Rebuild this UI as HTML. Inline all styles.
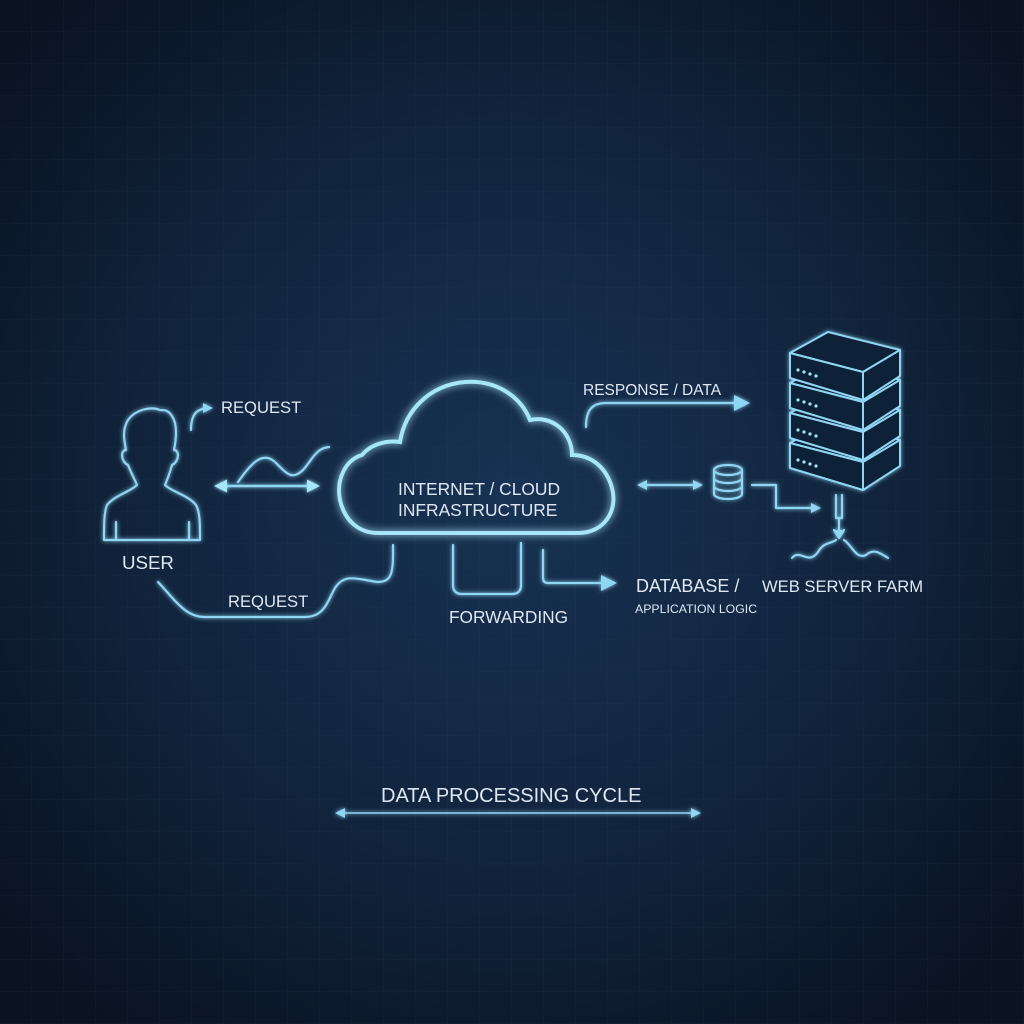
<!DOCTYPE html>
<html><head><style>
html,body{margin:0;padding:0;width:1024px;height:1024px;overflow:hidden;background:#0c1628}
svg{display:block}
text{font-family:"Liberation Sans",sans-serif;fill:#dfe8f2}
</style></head><body>
<svg width="1024" height="1024" viewBox="0 0 1024 1024">
<defs>
<radialGradient id="bg" cx="50%" cy="48%" r="65%">
<stop offset="0" stop-color="#173253"/><stop offset="0.55" stop-color="#11243d"/><stop offset="1" stop-color="#0a1322"/>
</radialGradient>
<pattern id="grid" width="32" height="32" patternUnits="userSpaceOnUse">
<path d="M32 0V32H0" fill="none" stroke="#2a4566" stroke-width="0.6" opacity="0.35"/>
</pattern>
<filter id="glow" x="-30%" y="-30%" width="160%" height="160%">
<feGaussianBlur stdDeviation="4" result="b"/><feMerge><feMergeNode in="b"/><feMergeNode in="SourceGraphic"/></feMerge>
</filter>
<filter id="glow2" x="-30%" y="-30%" width="160%" height="160%">
<feGaussianBlur stdDeviation="2" result="b"/><feMerge><feMergeNode in="b"/><feMergeNode in="SourceGraphic"/></feMerge>
</filter>
<marker id="ah" markerWidth="10" markerHeight="10" refX="7" refY="5" orient="auto-start-reverse" markerUnits="userSpaceOnUse"><path d="M0,0 L10,5 L0,10 Z" fill="#8fd6f2"/></marker>
<marker id="ahM" markerWidth="13" markerHeight="13" refX="9" refY="6.5" orient="auto-start-reverse" markerUnits="userSpaceOnUse"><path d="M0,0 L13,6.5 L0,13 Z" fill="#a6e6fb"/></marker>
<marker id="ahB" markerWidth="16" markerHeight="16" refX="11" refY="8" orient="auto" markerUnits="userSpaceOnUse"><path d="M0,0 L16,8 L0,16 Z" fill="#8fd6f2"/></marker>
</defs>
<rect width="1024" height="1024" fill="url(#bg)"/>
<rect width="1024" height="1024" fill="url(#grid)"/>

<g fill="none" stroke="#8fd6f2" stroke-width="2.2" stroke-linecap="round" stroke-linejoin="round" filter="url(#glow2)">
<path d="M160,410 C150,406 135,410 128,420 C122,430 124,440 126,450 C120,450 121,462 128,465 C132,475 135,480 137,485 C130,492 115,495 107,505 C104,512 104,525 104,540 H200 C200,525 200,512 196,505 C188,495 172,492 165,485 C168,478 170,472 172,465 C179,462 180,450 174,450 C176,440 178,425 172,416 C168,410 165,410 160,410 Z"/>
<path d="M116,540 V522 M189,540 V522"/>
<path d="M191,430 C191,415 196,408 210,408" marker-end="url(#ah)"/>
<path d="M238,482 C250,465 262,450 275,462 C288,475 292,480 303,470 C312,460 316,448 329,447"/>
<path d="M218,486 H316" stroke-width="2.6" marker-end="url(#ahM)" marker-start="url(#ahM)"/>
<path d="M158,582 C175,600 185,617 205,617 H305 C325,617 328,600 335,588 C345,572 360,580 378,582 C390,582 393,575 393,555 V545"/>
<path d="M453,545 V585 Q453,594 462,594 H512 Q521,594 521,585 V543"/>
<path d="M543,550 V578 Q543,583 548,583 H612" marker-end="url(#ahB)"/>
<path d="M586,427 C586,410 592,403 606,403 H745" marker-end="url(#ahB)"/>
<path d="M640,485 H700" marker-end="url(#ah)" marker-start="url(#ah)"/>
<ellipse cx="728" cy="470" rx="14" ry="5"/>
<path d="M714,470 V494 A14,5 0 0 0 742,494 V470 M714,478 A14,5 0 0 0 742,478 M714,486 A14,5 0 0 0 742,486"/>
<path d="M752,485 H776 V508 H818" marker-end="url(#ah)"/>
<path d="M836,495 V518 H842 V495 M839,518 V535" />
<path d="M834,530 L839,538 L844,530" fill="#8fd6f2"/>
<path d="M792,558 C800,548 808,566 818,552 C824,542 830,544 836,540 M844,540 C852,545 856,560 866,555 C874,548 880,553 888,558"/>
<path d="M338,813 H698" stroke-width="1.6" marker-end="url(#ah)" marker-start="url(#ah)"/>
</g>

<g fill="#0f2238" stroke="#8fd6f2" stroke-width="2" stroke-linejoin="round" filter="url(#glow2)">
<g transform="translate(0,90)"><path d="M790,353 L828,332 L900,350 L863,372 Z"/><path d="M790,353 V378 L863,400 V372 Z"/><path d="M863,372 L900,350 V376 L863,400 Z"/></g>
<g transform="translate(0,60)"><path d="M790,353 L828,332 L900,350 L863,372 Z"/><path d="M790,353 V378 L863,400 V372 Z"/><path d="M863,372 L900,350 V376 L863,400 Z"/></g>
<g transform="translate(0,30)"><path d="M790,353 L828,332 L900,350 L863,372 Z"/><path d="M790,353 V378 L863,400 V372 Z"/><path d="M863,372 L900,350 V376 L863,400 Z"/></g>
<g><path d="M790,353 L828,332 L900,350 L863,372 Z"/><path d="M790,353 V378 L863,400 V372 Z"/><path d="M863,372 L900,350 V376 L863,400 Z"/></g>
</g>
<g fill="#a8e2f8">
<circle cx="798" cy="370" r="1.6"/><circle cx="804" cy="372" r="1.6"/><circle cx="810" cy="374" r="1.6"/><circle cx="816" cy="376" r="1.6"/>
<circle cx="798" cy="400" r="1.6"/><circle cx="804" cy="402" r="1.6"/><circle cx="810" cy="404" r="1.6"/><circle cx="816" cy="406" r="1.6"/>
<circle cx="798" cy="430" r="1.6"/><circle cx="804" cy="432" r="1.6"/><circle cx="810" cy="434" r="1.6"/><circle cx="816" cy="436" r="1.6"/>
<circle cx="798" cy="460" r="1.6"/><circle cx="804" cy="462" r="1.6"/><circle cx="810" cy="464" r="1.6"/><circle cx="816" cy="466" r="1.6"/>
</g>

<path d="M378,533 H578 C605,533 618,510 612,488 C606,466 590,455 572,455 C572,432 552,415 530,420 C520,395 495,380 465,382 C430,385 405,410 400,442 C385,440 370,445 362,455 C345,460 336,480 340,500 C345,522 360,533 378,533 Z" fill="none" stroke="#a6e6fb" stroke-width="4" filter="url(#glow)"/>

<g>
<text x="221" y="413" font-size="16.6">REQUEST</text>
<text x="122" y="569" font-size="18.7">USER</text>
<text x="228" y="607" font-size="16.6">REQUEST</text>
<text x="398" y="495" font-size="17.4">INTERNET / CLOUD</text>
<text x="398" y="516" font-size="17.4">INFRASTRUCTURE</text>
<text x="449" y="623" font-size="17.3">FORWARDING</text>
<text x="583" y="395" font-size="15.5">RESPONSE / DATA</text>
<text x="636" y="592" font-size="18">DATABASE /</text>
<text x="635" y="613" font-size="12.3">APPLICATION LOGIC</text>
<text x="762" y="592" font-size="16.6">WEB SERVER FARM</text>
<text x="381" y="802" font-size="20">DATA PROCESSING CYCLE</text>
</g>
</svg>
</body></html>
